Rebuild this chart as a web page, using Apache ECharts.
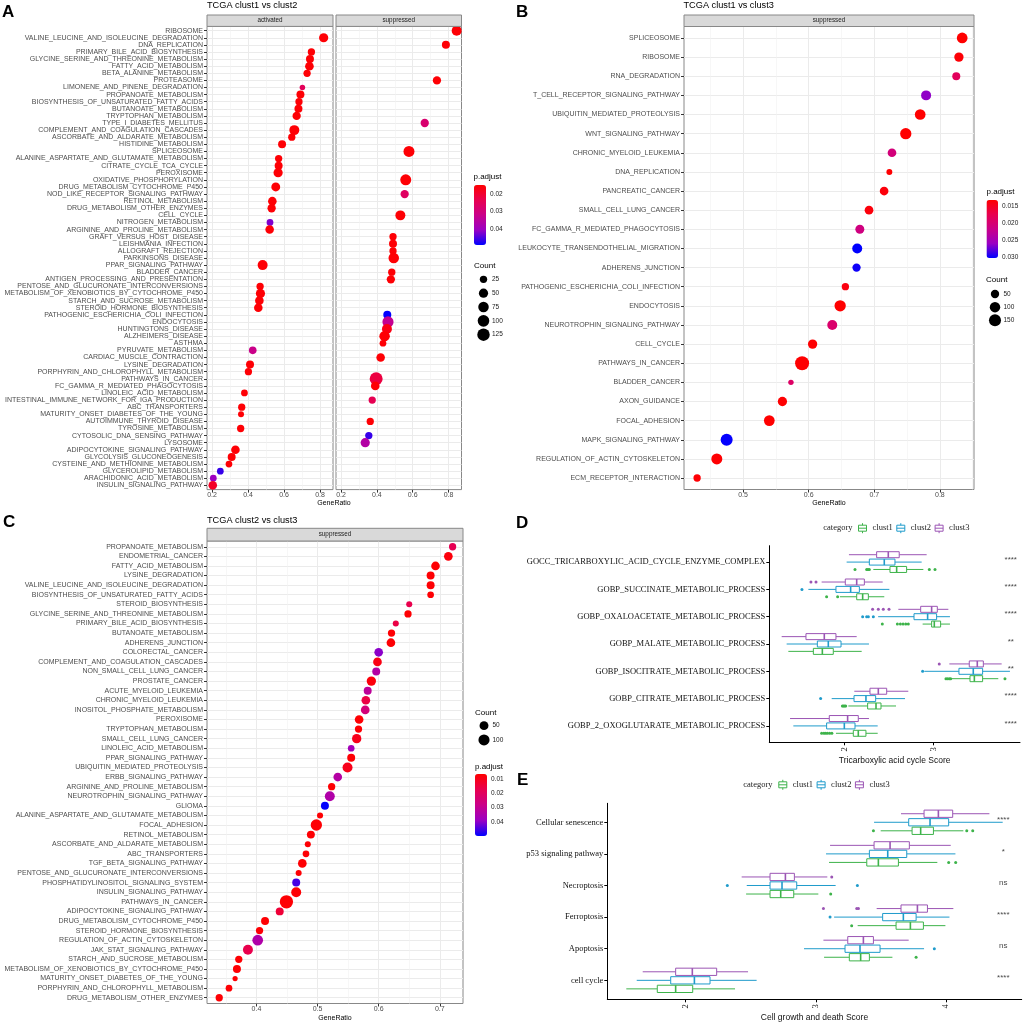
<!DOCTYPE html>
<html><head><meta charset="utf-8">
<script src="https://cdn.jsdelivr.net/npm/echarts@6/dist/echarts.min.js"></script>
<style>html,body{margin:0;padding:0;background:#fff}#c{width:1024px;height:1024px}</style>
</head><body><div id="c"></div>
<script>
const SANS = 'Liberation Sans, Arial, sans-serif';
const SERIF = 'Liberation Serif, Times New Roman, serif';
const PADJ_COLORS = ['#FF0000', '#E8004F', '#CA0089', '#9A00C3', '#0000FF'];
const COL_C1 = '#3DB34A', COL_C2 = '#1F9BCB', COL_C3 = '#9B55B4';
const NO_TICK = { show: false, length: 0, lineStyle: { color: 'rgba(0,0,0,0)', width: 0 } };

// ---------- Panel A: TCGA clust1 vs clust2 ----------
const aTerms = ['RIBOSOME','VALINE_LEUCINE_AND_ISOLEUCINE_DEGRADATION','DNA_REPLICATION','PRIMARY_BILE_ACID_BIOSYNTHESIS','GLYCINE_SERINE_AND_THREONINE_METABOLISM','FATTY_ACID_METABOLISM','BETA_ALANINE_METABOLISM','PROTEASOME','LIMONENE_AND_PINENE_DEGRADATION','PROPANOATE_METABOLISM',
'BIOSYNTHESIS_OF_UNSATURATED_FATTY_ACIDS','BUTANOATE_METABOLISM','TRYPTOPHAN_METABOLISM','TYPE_I_DIABETES_MELLITUS','COMPLEMENT_AND_COAGULATION_CASCADES','ASCORBATE_AND_ALDARATE_METABOLISM','HISTIDINE_METABOLISM','SPLICEOSOME','ALANINE_ASPARTATE_AND_GLUTAMATE_METABOLISM','CITRATE_CYCLE_TCA_CYCLE',
'PEROXISOME','OXIDATIVE_PHOSPHORYLATION','DRUG_METABOLISM_CYTOCHROME_P450','NOD_LIKE_RECEPTOR_SIGNALING_PATHWAY','RETINOL_METABOLISM','DRUG_METABOLISM_OTHER_ENZYMES','CELL_CYCLE','NITROGEN_METABOLISM','ARGININE_AND_PROLINE_METABOLISM','GRAFT_VERSUS_HOST_DISEASE',
'LEISHMANIA_INFECTION','ALLOGRAFT_REJECTION','PARKINSONS_DISEASE','PPAR_SIGNALING_PATHWAY','BLADDER_CANCER','ANTIGEN_PROCESSING_AND_PRESENTATION','PENTOSE_AND_GLUCURONATE_INTERCONVERSIONS','METABOLISM_OF_XENOBIOTICS_BY_CYTOCHROME_P450','STARCH_AND_SUCROSE_METABOLISM','STEROID_HORMONE_BIOSYNTHESIS',
'PATHOGENIC_ESCHERICHIA_COLI_INFECTION','ENDOCYTOSIS','HUNTINGTONS_DISEASE','ALZHEIMERS_DISEASE','ASTHMA','PYRUVATE_METABOLISM','CARDIAC_MUSCLE_CONTRACTION','LYSINE_DEGRADATION','PORPHYRIN_AND_CHLOROPHYLL_METABOLISM','PATHWAYS_IN_CANCER',
'FC_GAMMA_R_MEDIATED_PHAGOCYTOSIS','LINOLEIC_ACID_METABOLISM','INTESTINAL_IMMUNE_NETWORK_FOR_IGA_PRODUCTION','ABC_TRANSPORTERS','MATURITY_ONSET_DIABETES_OF_THE_YOUNG','AUTOIMMUNE_THYROID_DISEASE','TYROSINE_METABOLISM','CYTOSOLIC_DNA_SENSING_PATHWAY','LYSOSOME','ADIPOCYTOKINE_SIGNALING_PATHWAY',
'GLYCOLYSIS_GLUCONEOGENESIS','CYSTEINE_AND_METHIONINE_METABOLISM','GLYCEROLIPID_METABOLISM','ARACHIDONIC_ACID_METABOLISM','INSULIN_SIGNALING_PATHWAY'];
const aGroup = ['sup','act','sup','act','act','act','act','sup','act','act',
'act','act','act','sup','act','act','act','sup','act','act',
'act','sup','act','sup','act','act','sup','act','act','sup',
'sup','sup','sup','act','sup','sup','act','act','act','act',
'sup','sup','sup','sup','sup','act','sup','act','act','sup',
'sup','act','sup','act','act','sup','act','sup','sup','act',
'act','act','act','act','act'];
const aRatio = [0.845,0.820,0.785,0.752,0.744,0.741,0.728,0.735,0.702,0.691,
0.683,0.680,0.670,0.667,0.657,0.643,0.589,0.579,0.570,0.570,
0.567,0.561,0.554,0.555,0.535,0.531,0.531,0.522,0.520,0.490,
0.490,0.490,0.494,0.481,0.483,0.478,0.467,0.469,0.463,0.457,
0.458,0.462,0.456,0.443,0.434,0.426,0.421,0.411,0.402,0.396,
0.391,0.380,0.374,0.365,0.361,0.363,0.359,0.355,0.335,0.330,
0.309,0.294,0.246,0.207,0.204];
const aCount = [64,50,32,24,32,41,24,36,12,32,
24,32,36,36,64,24,32,86,24,32,
50,86,45,36,40,36,64,19,40,24,
32,24,75,64,24,36,24,50,40,40,
32,90,64,75,19,28,40,32,24,140,
40,19,24,24,14,24,24,24,50,40,
32,19,19,19,40];
const aPadj = [0.0155,0.0155,0.0155,0.0155,0.0155,0.0155,0.0155,0.0155,0.025,0.0155,
0.0155,0.0155,0.0155,0.028,0.0155,0.0155,0.0155,0.0155,0.0155,0.0155,
0.0155,0.0155,0.0155,0.026,0.0155,0.0155,0.0155,0.042,0.0155,0.0155,
0.0155,0.0155,0.0155,0.0155,0.0155,0.0155,0.0155,0.0155,0.0155,0.0155,
0.049,0.033,0.017,0.0155,0.0155,0.032,0.0155,0.0155,0.0155,0.022,
0.0155,0.0155,0.024,0.0155,0.0155,0.0155,0.0155,0.046,0.036,0.0155,
0.0155,0.0155,0.046,0.040,0.019];
const aTicks = [0.2, 0.4, 0.6, 0.8];
const aMinor = [0.3, 0.5, 0.7];
const aCountBreaks = [25, 50, 75, 100, 125];
const aPadjBreaks = [0.02, 0.03, 0.04];

// ---------- Panel B: TCGA clust1 vs clust3 ----------
const bTerms = ['SPLICEOSOME','RIBOSOME','RNA_DEGRADATION','T_CELL_RECEPTOR_SIGNALING_PATHWAY','UBIQUITIN_MEDIATED_PROTEOLYSIS','WNT_SIGNALING_PATHWAY','CHRONIC_MYELOID_LEUKEMIA','DNA_REPLICATION','PANCREATIC_CANCER','SMALL_CELL_LUNG_CANCER','FC_GAMMA_R_MEDIATED_PHAGOCYTOSIS','LEUKOCYTE_TRANSENDOTHELIAL_MIGRATION','ADHERENS_JUNCTION','PATHOGENIC_ESCHERICHIA_COLI_INFECTION','ENDOCYTOSIS','NEUROTROPHIN_SIGNALING_PATHWAY','CELL_CYCLE','PATHWAYS_IN_CANCER','BLADDER_CANCER','AXON_GUIDANCE','FOCAL_ADHESION','MAPK_SIGNALING_PATHWAY','REGULATION_OF_ACTIN_CYTOSKELETON','ECM_RECEPTOR_INTERACTION'];
const bRatio = [0.834,0.829,0.825,0.779,0.770,0.748,0.727,0.723,0.715,0.692,0.678,0.674,0.673,0.656,0.648,0.636,0.606,0.590,0.573,0.560,0.540,0.475,0.460,0.430];
const bCount = [107,70,44,87,107,125,57,20,57,57,63,87,49,34,125,87,70,230,17,70,107,149,116,34];
const bPadj = [0.0132,0.0135,0.0183,0.0262,0.0132,0.0132,0.0205,0.0133,0.0138,0.0138,0.0210,0.0302,0.0298,0.0140,0.0132,0.0195,0.0133,0.0133,0.0190,0.0133,0.0132,0.0301,0.0133,0.0134];
const bTicks = [0.5, 0.6, 0.7, 0.8];
const bMinor = [0.45, 0.55, 0.65, 0.75, 0.85];
const bCountBreaks = [50, 100, 150];
const bPadjBreaks = [0.015, 0.020, 0.025, 0.030];

// ---------- Panel C: TCGA clust2 vs clust3 ----------
const cTerms = ['PROPANOATE_METABOLISM','ENDOMETRIAL_CANCER','FATTY_ACID_METABOLISM','LYSINE_DEGRADATION','VALINE_LEUCINE_AND_ISOLEUCINE_DEGRADATION','BIOSYNTHESIS_OF_UNSATURATED_FATTY_ACIDS','STEROID_BIOSYNTHESIS','GLYCINE_SERINE_AND_THREONINE_METABOLISM','PRIMARY_BILE_ACID_BIOSYNTHESIS','BUTANOATE_METABOLISM',
'ADHERENS_JUNCTION','COLORECTAL_CANCER','COMPLEMENT_AND_COAGULATION_CASCADES','NON_SMALL_CELL_LUNG_CANCER','PROSTATE_CANCER','ACUTE_MYELOID_LEUKEMIA','CHRONIC_MYELOID_LEUKEMIA','INOSITOL_PHOSPHATE_METABOLISM','PEROXISOME','TRYPTOPHAN_METABOLISM',
'SMALL_CELL_LUNG_CANCER','LINOLEIC_ACID_METABOLISM','PPAR_SIGNALING_PATHWAY','UBIQUITIN_MEDIATED_PROTEOLYSIS','ERBB_SIGNALING_PATHWAY','ARGININE_AND_PROLINE_METABOLISM','NEUROTROPHIN_SIGNALING_PATHWAY','GLIOMA','ALANINE_ASPARTATE_AND_GLUTAMATE_METABOLISM','FOCAL_ADHESION',
'RETINOL_METABOLISM','ASCORBATE_AND_ALDARATE_METABOLISM','ABC_TRANSPORTERS','TGF_BETA_SIGNALING_PATHWAY','PENTOSE_AND_GLUCURONATE_INTERCONVERSIONS','PHOSPHATIDYLINOSITOL_SIGNALING_SYSTEM','INSULIN_SIGNALING_PATHWAY','PATHWAYS_IN_CANCER','ADIPOCYTOKINE_SIGNALING_PATHWAY','DRUG_METABOLISM_CYTOCHROME_P450',
'STEROID_HORMONE_BIOSYNTHESIS','REGULATION_OF_ACTIN_CYTOSKELETON','JAK_STAT_SIGNALING_PATHWAY','STARCH_AND_SUCROSE_METABOLISM','METABOLISM_OF_XENOBIOTICS_BY_CYTOCHROME_P450','MATURITY_ONSET_DIABETES_OF_THE_YOUNG','PORPHYRIN_AND_CHLOROPHYLL_METABOLISM','DRUG_METABOLISM_OTHER_ENZYMES'];
const cRatio = [0.721,0.714,0.693,0.685,0.685,0.685,0.650,0.648,0.628,0.621,
0.620,0.600,0.598,0.596,0.588,0.582,0.579,0.578,0.568,0.567,
0.564,0.555,0.555,0.549,0.533,0.523,0.520,0.512,0.504,0.498,
0.489,0.484,0.481,0.475,0.469,0.465,0.465,0.449,0.438,0.414,
0.405,0.402,0.386,0.371,0.368,0.365,0.355,0.339];
const cCount = [26,46,46,35,35,20,15,26,15,26,
46,46,46,35,58,35,46,46,46,26,
58,20,35,72,46,26,72,35,15,106,
35,15,20,46,15,35,72,170,35,35,
26,89,72,26,35,11,20,26];
const cPadj = [0.018,0.008,0.007,0.007,0.007,0.007,0.017,0.007,0.016,0.007,
0.007,0.040,0.009,0.033,0.008,0.031,0.016,0.025,0.007,0.007,
0.010,0.037,0.007,0.010,0.033,0.007,0.034,0.0495,0.007,0.007,
0.007,0.007,0.007,0.007,0.007,0.045,0.007,0.007,0.014,0.007,
0.007,0.034,0.017,0.007,0.007,0.007,0.007,0.007];
const cTicks = [0.4, 0.5, 0.6, 0.7];
const cMinor = [0.35, 0.45, 0.55, 0.65];
const cCountBreaks = [50, 100];
const cPadjBreaks = [0.01, 0.02, 0.03, 0.04];

// ---------- Panel D: Tricarboxylic acid cycle score ----------
const dTerms = ['GOCC_TRICARBOXYLIC_ACID_CYCLE_ENZYME_COMPLEX','GOBP_SUCCINATE_METABOLIC_PROCESS','GOBP_OXALOACETATE_METABOLIC_PROCESS','GOBP_MALATE_METABOLIC_PROCESS','GOBP_ISOCITRATE_METABOLIC_PROCESS','GOBP_CITRATE_METABOLIC_PROCESS','GOBP_2_OXOGLUTARATE_METABOLIC_PROCESS'];
// [lower whisker, Q1, median, Q3, upper whisker]
const dBoxC1 = [[2.326,2.513,2.588,2.700,2.888],[1.951,2.139,2.206,2.270,2.449],[2.880,2.981,3.011,3.082,3.187],[1.371,1.652,1.753,1.876,2.195],[3.206,3.412,3.461,3.554,3.730],[2.045,2.262,2.356,2.412,2.581],[1.906,2.101,2.157,2.243,2.375]];
const dBoxC2 = [[2.026,2.281,2.449,2.569,2.869],[1.596,1.906,2.071,2.169,2.506],[2.380,2.783,2.936,3.037,3.187],[1.352,1.697,1.820,1.963,2.277],[2.900,3.288,3.449,3.554,3.861],[1.858,2.109,2.243,2.352,2.682],[1.427,1.801,2.000,2.120,2.375]];
const dBoxC3 = [[2.052,2.363,2.494,2.617,2.925],[1.745,2.011,2.139,2.225,2.431],[2.607,2.858,2.981,3.045,3.169],[1.296,1.569,1.775,1.906,2.139],[3.180,3.404,3.494,3.562,3.768],[2.112,2.288,2.382,2.476,2.719],[1.390,1.831,2.037,2.157,2.277]];
const dOutC1 = [[2.120,2.251,2.266,2.281,2.955,3.019],[1.801,1.925],[2.427,2.596,2.630,2.660,2.690,2.719],[],[3.142,3.160,3.180,3.195,3.805],[1.978,1.990,2.003,2.015],[1.745,1.770,1.790,1.810,1.835,1.860]];
const dOutC2 = [[],[1.524],[2.206,2.251,2.270,2.326],[],[2.880],[1.734],[]];
const dOutC3 = [[],[1.625,1.682],[2.318,2.382,2.438,2.502],[],[3.067],[],[]];
const dSig = ['****','****','****','**','**','****','****'];
const dTicks = [2, 3];

// ---------- Panel E: Cell growth and death score ----------
const eTerms = ['Cellular senescence','p53 signaling pathway','Necroptosis','Ferroptosis','Apoptosis','cell cycle'];
const eBoxC1 = [[3.498,3.739,3.805,3.903,4.133],[3.101,3.391,3.480,3.634,3.933],[2.464,2.648,2.730,2.830,3.019],[3.321,3.616,3.726,3.826,3.995],[3.063,3.257,3.344,3.411,3.588],[1.544,1.782,1.923,2.054,2.379]];
const eBoxC2 = [[3.447,3.713,3.877,4.020,4.435],[3.078,3.411,3.552,3.698,4.072],[2.469,2.648,2.740,2.853,3.152],[3.140,3.513,3.672,3.770,4.026],[2.909,3.224,3.339,3.493,3.831],[1.624,1.885,2.067,2.187,2.545]];
const eBoxC3 = [[3.654,3.831,3.941,4.051,4.333],[3.109,3.447,3.570,3.718,4.036],[2.430,2.648,2.766,2.835,3.088],[3.467,3.654,3.780,3.857,4.056],[3.058,3.245,3.365,3.442,3.713],[1.670,1.923,2.051,2.238,2.479]];
const eOutC1 = [[3.442,4.159,4.205],[4.020,4.074],[3.114],[3.275],[3.770],[]];
const eOutC2 = [[],[],[2.320,3.319],[3.109],[3.910],[]];
const eOutC3 = [[],[],[3.122],[3.058,3.314,3.327],[],[]];
const eSig = ['****','*','ns','****','ns','****'];
const eTicks = [2, 3, 4];

// ---------- helpers ----------
const sizeA = c => 4.5 + 8.5 * Math.sqrt(Math.max(0, (c - 10) / 130));
const sizeB = c => 4.5 + 9.5 * Math.sqrt(Math.max(0, (c - 15) / 215));
const sizeC = c => 4.5 + 8.8 * Math.sqrt(Math.max(0, (c - 10) / 160));
const idx = arr => arr.map((_, i) => i + 1);

function dotData(terms, ratio, count, padj, keep) {
  const out = [];
  terms.forEach((t, i) => { if (!keep || keep(i)) out.push({ value: [ratio[i], i + 1, count[i], padj[i]], name: t }); });
  return out;
}
function ratioAxes(gi, min, max, major, minor) {
  return [
    { type: 'value', gridIndex: gi, min, max, position: 'bottom',
      axisLine: { show: false, onZero: false },
      axisTick: { show: true, customValues: major, length: 3, lineStyle: { color: '#333', width: 1 } },
      axisLabel: { customValues: major, fontSize: 7, color: '#4D4D4D', fontFamily: SANS, margin: 2, formatter: v => v.toFixed(1) },
      splitLine: { show: true, lineStyle: { color: '#EBEBEB', width: 1 } } },
    { type: 'value', gridIndex: gi, min, max, position: 'top',
      axisLine: { show: false, onZero: false }, axisLabel: { show: false },
      axisTick: Object.assign({ customValues: minor }, NO_TICK),
      splitLine: { show: true, lineStyle: { color: '#F2F2F2', width: 0.6 } } }
  ];
}
function termAxis(gi, terms, showLabels) {
  const pos = idx(terms);
  const tick = showLabels
    ? { show: true, customValues: pos, length: 3, lineStyle: { color: '#333', width: 1 } }
    : Object.assign({ customValues: pos }, NO_TICK);
  return { type: 'value', gridIndex: gi, min: 0.4, max: terms.length + 0.6, inverse: true,
    axisLine: { show: false, onZero: false },
    axisTick: tick,
    axisLabel: { show: showLabels, customValues: pos, fontSize: 7, color: '#4D4D4D', fontFamily: SANS, margin: 4,
      formatter: v => showLabels ? (terms[Math.round(v) - 1] || '') : '' },
    splitLine: { show: true, lineStyle: { color: '#EBEBEB', width: 1 } } };
}
function scoreXAxis(gi, min, max, ticks, name, gap) {
  return { type: 'value', gridIndex: gi, min, max,
    axisLine: { show: true, onZero: false, lineStyle: { color: '#000', width: 1 } },
    axisTick: { show: true, customValues: ticks, length: 3, lineStyle: { color: '#000' } },
    axisLabel: { customValues: ticks, rotate: 90, fontFamily: SERIF, fontSize: 8.5, color: '#111', margin: 5 },
    splitLine: { show: false },
    name, nameLocation: 'middle', nameGap: gap, nameTextStyle: { fontFamily: SANS, fontSize: 8.5, color: '#111' } };
}
function scoreYAxis(gi, terms) {
  const pos = idx(terms);
  return { type: 'value', gridIndex: gi, min: 0.4, max: terms.length + 0.6, inverse: true,
    axisLine: { show: true, onZero: false, lineStyle: { color: '#000', width: 1 } },
    axisTick: { show: true, customValues: pos, length: 3, lineStyle: { color: '#000' } },
    axisLabel: { customValues: pos, fontFamily: SERIF, fontSize: 8.5, color: '#111', margin: 4,
      formatter: v => terms[Math.round(v) - 1] || '' },
    splitLine: { show: false } };
}
function legendAxes(gi, breaks) {
  return [
    { type: 'value', gridIndex: gi, min: -1, max: 1, show: false },
    { type: 'category', gridIndex: gi, data: breaks.map(String), inverse: true, position: 'right',
      axisLine: { show: false }, axisTick: { show: false }, splitLine: { show: false },
      axisLabel: { fontSize: 6.5, color: '#1A1A1A', fontFamily: SANS, margin: 3 } }
  ];
}
function padjAxes(gi, min, max, breaks, digits) {
  return [
    { type: 'value', gridIndex: gi, min: 0, max: 1, show: false },
    { type: 'value', gridIndex: gi, min, max, inverse: true, position: 'right',
      axisLine: { show: false }, axisTick: Object.assign({ customValues: breaks }, NO_TICK), splitLine: { show: false },
      axisLabel: { customValues: breaks, fontSize: 6.5, color: '#1A1A1A', fontFamily: SANS, margin: 4, formatter: v => v.toFixed(digits) } }
  ];
}
function boxRender(color, dodge, half) {
  return function (params, api) {
    const row = api.value(0) + dodge;
    const lo = api.coord([api.value(1), row]);
    const q1 = api.coord([api.value(2), row]);
    const md = api.coord([api.value(3), row]);
    const q3 = api.coord([api.value(4), row]);
    const hi = api.coord([api.value(5), row]);
    const h = Math.abs(api.coord([api.value(1), row + half])[1] - lo[1]);
    const y = lo[1];
    const ls = { stroke: color, lineWidth: 1 };
    return { type: 'group', children: [
      { type: 'line', shape: { x1: lo[0], y1: y, x2: q1[0], y2: y }, style: ls },
      { type: 'line', shape: { x1: q3[0], y1: y, x2: hi[0], y2: y }, style: ls },
      { type: 'rect', shape: { x: q1[0], y: y - h, width: q3[0] - q1[0], height: 2 * h }, style: { fill: '#fff', stroke: color, lineWidth: 1 } },
      { type: 'line', shape: { x1: md[0], y1: y - h, x2: md[0], y2: y + h }, style: { stroke: color, lineWidth: 1.6 } }
    ] };
  };
}
function outRender(color, dodge) {
  return function (params, api) {
    const p = api.coord([api.value(1), api.value(0) + dodge]);
    return { type: 'circle', shape: { cx: p[0], cy: p[1], r: 1.5 }, style: { fill: color } };
  };
}
function boxSeries(name, color, xi, yi, boxes, outs, dodge, half) {
  return [
    { type: 'custom', name, xAxisIndex: xi, yAxisIndex: yi, itemStyle: { color, borderColor: color },
      renderItem: boxRender(color, dodge, half), encode: { x: [1, 2, 3, 4, 5], y: 0 },
      data: boxes.map((b, i) => [i + 1].concat(b)), z: 3 },
    { type: 'custom', name, xAxisIndex: xi, yAxisIndex: yi, itemStyle: { color, borderColor: color },
      renderItem: outRender(color, dodge), encode: { x: 1, y: 0 },
      data: [].concat(...outs.map((o, i) => o.map(v => [i + 1, v]))), z: 4 }
  ];
}
function sigSeries(xi, yi, labels, xVal) {
  return { type: 'scatter', xAxisIndex: xi, yAxisIndex: yi, symbolSize: 0.1, itemStyle: { color: 'rgba(0,0,0,0)' },
    data: labels.map((s, i) => ({ value: [xVal, i + 1], name: s })),
    label: { show: true, position: 'inside', formatter: '{b}', fontFamily: SANS, fontSize: 8, color: '#111', offset: [0, -2.5] }, z: 5 };
}
function txt(x, y, text, size, extra) {
  return { type: 'text', x, y, z: 100, style: Object.assign({ text, fontSize: size, fontFamily: SANS, fill: '#000', align: 'left', verticalAlign: 'middle' }, extra || {}) };
}
function strip(x, y, w, h, label) {
  return [
    { type: 'rect', z: 90, shape: { x, y, width: w, height: h }, style: { fill: '#D9D9D9', stroke: '#888', lineWidth: 1 } },
    txt(x + w / 2, y + h / 2, label, 6.3, { align: 'center', fill: '#1A1A1A' })
  ];
}
const BOX_ICON = 'path://M5,0 L5,2 M1,2 L9,2 L9,8 L1,8 Z M1,5 L9,5 M5,8 L5,10';
function boxLegend(left, top) {
  return { data: ['clust1', 'clust2', 'clust3'], left, top, orient: 'horizontal', padding: 0,
    itemWidth: 10, itemHeight: 10, itemGap: 3.5, icon: BOX_ICON, selectedMode: false,
    itemStyle: { color: '#fff', borderColor: 'inherit', borderWidth: 1 },
    textStyle: { fontFamily: SERIF, fontSize: 8.5, color: '#1A1A1A' } };
}
const panelBorder = { show: true, borderColor: '#888', borderWidth: 1 };

const option = {
  animation: false,
  textStyle: { fontFamily: SANS },
  grid: [
    Object.assign({ left: 207, top: 26.4, width: 126, height: 463.2 }, panelBorder),   // 0 A act
    Object.assign({ left: 336, top: 26.4, width: 125.5, height: 463.2 }, panelBorder), // 1 A sup
    Object.assign({ left: 684, top: 26.5, width: 290, height: 463 }, panelBorder),     // 2 B
    Object.assign({ left: 207, top: 541, width: 256, height: 462.5 }, panelBorder),    // 3 C
    { left: 769.3, top: 545.7, width: 250.7, height: 196.6 },  // 4 D
    { left: 607.3, top: 803.3, width: 414.4, height: 196 },    // 5 E
    { left: 478, top: 272.4, width: 11, height: 69.2 },        // 6 A count legend
    { left: 474, top: 185, width: 12, height: 60 },            // 7 A padj labels
    { left: 989.5, top: 287.4, width: 11, height: 39.5 },      // 8 B count legend
    { left: 986.5, top: 200, width: 11.5, height: 58 },        // 9 B padj labels
    { left: 478.5, top: 718.5, width: 11, height: 28.6 },      // 10 C count legend
    { left: 475, top: 774, width: 12, height: 62 }             // 11 C padj labels
  ],
  xAxis: [].concat(
    ratioAxes(0, 0.172, 0.872, aTicks, aMinor),   // 0,1
    ratioAxes(1, 0.172, 0.872, aTicks, aMinor),   // 2,3
    ratioAxes(2, 0.410, 0.852, bTicks, bMinor),   // 4,5
    ratioAxes(3, 0.319, 0.738, cTicks, cMinor),   // 6,7
    [scoreXAxis(4, 1.157, 3.974, dTicks, 'Tricarboxylic acid cycle Score', 13.5)], // 8
    [scoreXAxis(5, 1.398, 4.581, eTicks, 'Cell growth and death Score', 13.5)],    // 9
    [legendAxes(6, aCountBreaks)[0]],   // 10
    [padjAxes(7, 0.015, 0.049, aPadjBreaks, 2)[0]], // 11
    [legendAxes(8, bCountBreaks)[0]],   // 12
    [padjAxes(9, 0.0132, 0.0302, bPadjBreaks, 3)[0]], // 13
    [legendAxes(10, cCountBreaks)[0]],  // 14
    [padjAxes(11, 0.0065, 0.0498, cPadjBreaks, 2)[0]] // 15
  ),
  yAxis: [
    termAxis(0, aTerms, true),   // 0
    termAxis(1, aTerms, false),  // 1
    termAxis(2, bTerms, true),   // 2
    termAxis(3, cTerms, true),   // 3
    scoreYAxis(4, dTerms),       // 4
    scoreYAxis(5, eTerms),       // 5
    legendAxes(6, aCountBreaks)[1],  // 6
    padjAxes(7, 0.015, 0.049, aPadjBreaks, 2)[1], // 7
    legendAxes(8, bCountBreaks)[1],  // 8
    padjAxes(9, 0.0132, 0.0302, bPadjBreaks, 3)[1], // 9
    legendAxes(10, cCountBreaks)[1], // 10
    padjAxes(11, 0.0065, 0.0498, cPadjBreaks, 2)[1] // 11
  ],
  visualMap: [
    { type: 'continuous', seriesIndex: [0, 1], dimension: 3, min: 0.015, max: 0.049, inverse: true, calculable: false, hoverLink: false,
      left: 474, top: 185, itemWidth: 12, itemHeight: 60, padding: 0, inRange: { color: PADJ_COLORS } },
    { type: 'continuous', seriesIndex: [2], dimension: 3, min: 0.0132, max: 0.0302, inverse: true, calculable: false, hoverLink: false,
      left: 986.5, top: 200, itemWidth: 11.5, itemHeight: 58, padding: 0, inRange: { color: PADJ_COLORS } },
    { type: 'continuous', seriesIndex: [3], dimension: 3, min: 0.0065, max: 0.0498, inverse: true, calculable: false, hoverLink: false,
      left: 475, top: 774, itemWidth: 12, itemHeight: 62, padding: 0, inRange: { color: PADJ_COLORS } }
  ],
  legend: [boxLegend(858, 522.7), boxLegend(778.3, 779.3)],
  series: [].concat(
    [{ type: 'scatter', name: 'A activated', xAxisIndex: 0, yAxisIndex: 0, data: dotData(aTerms, aRatio, aCount, aPadj, i => aGroup[i] === 'act'),
       symbolSize: v => sizeA(v[2]), itemStyle: { opacity: 1 }, z: 3 },
     { type: 'scatter', name: 'A suppressed', xAxisIndex: 2, yAxisIndex: 1, data: dotData(aTerms, aRatio, aCount, aPadj, i => aGroup[i] === 'sup'),
       symbolSize: v => sizeA(v[2]), itemStyle: { opacity: 1 }, z: 3 },
     { type: 'scatter', name: 'B suppressed', xAxisIndex: 4, yAxisIndex: 2, data: dotData(bTerms, bRatio, bCount, bPadj),
       symbolSize: v => sizeB(v[2]), itemStyle: { opacity: 1 }, z: 3 },
     { type: 'scatter', name: 'C suppressed', xAxisIndex: 6, yAxisIndex: 3, data: dotData(cTerms, cRatio, cCount, cPadj),
       symbolSize: v => sizeC(v[2]), itemStyle: { opacity: 1 }, z: 3 }],
    boxSeries('clust3', COL_C3, 8, 4, dBoxC3, dOutC3, -0.27, 0.11),
    boxSeries('clust2', COL_C2, 8, 4, dBoxC2, dOutC2, 0, 0.11),
    boxSeries('clust1', COL_C1, 8, 4, dBoxC1, dOutC1, 0.27, 0.11),
    [sigSeries(8, 4, dSig, 3.87)],
    boxSeries('clust3', COL_C3, 9, 5, eBoxC3, eOutC3, -0.27, 0.115),
    boxSeries('clust2', COL_C2, 9, 5, eBoxC2, eOutC2, 0, 0.115),
    boxSeries('clust1', COL_C1, 9, 5, eBoxC1, eOutC1, 0.27, 0.115),
    [sigSeries(9, 5, eSig, 4.44)],
    [{ type: 'scatter', name: 'A count', xAxisIndex: 10, yAxisIndex: 6, data: aCountBreaks.map(b => [0, String(b), b]),
       symbolSize: v => sizeA(v[2]), itemStyle: { color: '#000', opacity: 1 } },
     { type: 'scatter', name: 'B count', xAxisIndex: 12, yAxisIndex: 8, data: bCountBreaks.map(b => [0, String(b), b]),
       symbolSize: v => sizeB(v[2]), itemStyle: { color: '#000', opacity: 1 } },
     { type: 'scatter', name: 'C count', xAxisIndex: 14, yAxisIndex: 10, data: cCountBreaks.map(b => [0, String(b), b]),
       symbolSize: v => sizeC(v[2]), itemStyle: { color: '#000', opacity: 1 } }]
  ),
  graphic: [].concat(
    [txt(2, 12.5, 'A', 17, { fontWeight: 'bold' }),
     txt(516, 12.5, 'B', 17, { fontWeight: 'bold' }),
     txt(3, 522, 'C', 17, { fontWeight: 'bold' }),
     txt(516, 523.5, 'D', 17, { fontWeight: 'bold' }),
     txt(517, 780.5, 'E', 17, { fontWeight: 'bold' }),
     txt(207, 5.5, 'TCGA clust1 vs clust2', 9.2),
     txt(683.5, 5.5, 'TCGA clust1 vs clust3', 9.2),
     txt(207, 520, 'TCGA clust2 vs clust3', 9.2),
     txt(334, 503, 'GeneRatio', 7, { align: 'center' }),
     txt(829, 503, 'GeneRatio', 7, { align: 'center' }),
     txt(335, 1018.3, 'GeneRatio', 7, { align: 'center' }),
     txt(473.5, 177, 'p.adjust', 8),
     txt(474, 265.7, 'Count', 8),
     txt(986.5, 192, 'p.adjust', 8),
     txt(986, 280, 'Count', 8),
     txt(475, 712.7, 'Count', 8),
     txt(475, 766.7, 'p.adjust', 8),
     txt(823.3, 527.7, 'category', 8.5, { fontFamily: SERIF, fill: '#1A1A1A' }),
     txt(743.3, 784.3, 'category', 8.5, { fontFamily: SERIF, fill: '#1A1A1A' })],
    strip(207, 15, 126, 11.4, 'activated'),
    strip(336, 15, 125.5, 11.4, 'suppressed'),
    strip(684, 15, 290, 11.5, 'suppressed'),
    strip(207, 528.3, 256, 12.7, 'suppressed')
  )
};
const chart = echarts.init(document.getElementById('c'));
chart.setOption(option);
</script></body></html>
